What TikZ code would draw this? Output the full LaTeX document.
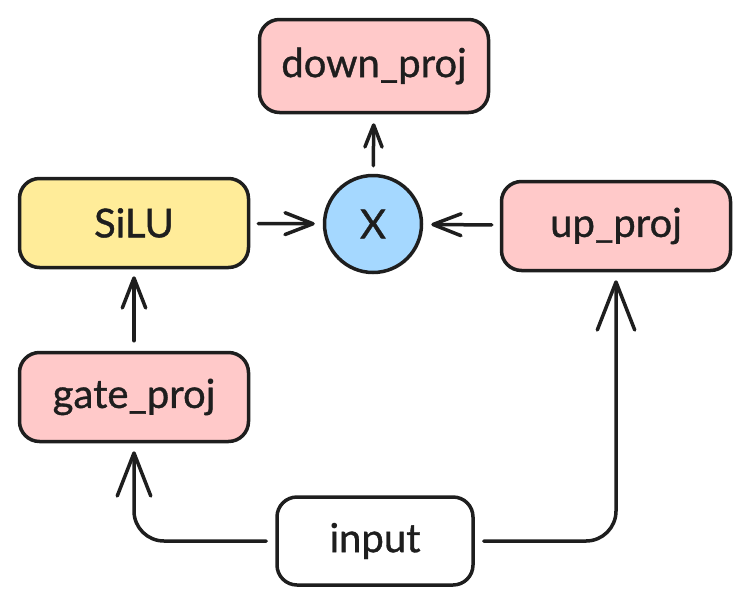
\documentclass[tikz,border=0pt]{standalone}
\usepackage{fontspec}
\setmainfont[FakeBold=0.9]{Lato}
\usetikzlibrary{arrows.meta}
\definecolor{projpink}{HTML}{FFC9C9}
\definecolor{silugelb}{HTML}{FFEC99}
\definecolor{mulblau}{HTML}{A5D8FF}
\definecolor{strich}{HTML}{1E1E1E}

\begin{document}
\begin{tikzpicture}[x=1pt,y=-1pt,
		box/.style={draw=strich,line width=3.5pt,rounded corners=20pt,minimum width=229pt,minimum height=89pt,font=\fontsize{40}{46}\selectfont,text=strich},
		pfeil/.style={draw=strich,line width=3.5pt,line cap=round,-{Straight Barb[length=#1,width=0.78*#1,line width=3.5pt,round]}}]
		\useasboundingbox (0,0) rectangle (751,605);
		
		\node[box,fill=projpink,minimum height=93pt] (down) at (374,66) {down\_proj};
		\node[box,fill=silugelb] (silu) at (134,223) {SiLU};
		\node[draw=strich,line width=3.5pt,circle,fill=mulblau,minimum size=97pt,inner sep=0pt,font=\fontsize{40}{46}\selectfont,text=strich] (mul) at (373,224) {X};
		\node[box,fill=projpink] (up) at (616,226) {up\_proj};
		\node[box,fill=projpink] (gate) at (134,397) {gate\_proj};
		\node[box,fill=white,minimum width=196pt,minimum height=88pt] (input) at (375,541) {input};
		
		\draw[pfeil=22pt,shorten <=8pt,shorten >=9pt] (mul) -- (down);
		\draw[pfeil=28pt,shorten <=8pt,shorten >=8pt] (silu) -- (mul);
		\draw[pfeil=28pt,shorten <=8pt,shorten >=8pt] (up) -- (mul);
		\draw[pfeil=30pt,shorten <=10pt,shorten >=7pt] (gate) -- (silu);
		\draw[pfeil=43pt,rounded corners=30pt,shorten <=9pt,shorten >=8pt] (input.west) -| (gate.south);
		\draw[pfeil=48pt,rounded corners=30pt,shorten <=9pt,shorten >=8pt] (input.east) -| (up.south);
	\end{tikzpicture}
\end{document}
